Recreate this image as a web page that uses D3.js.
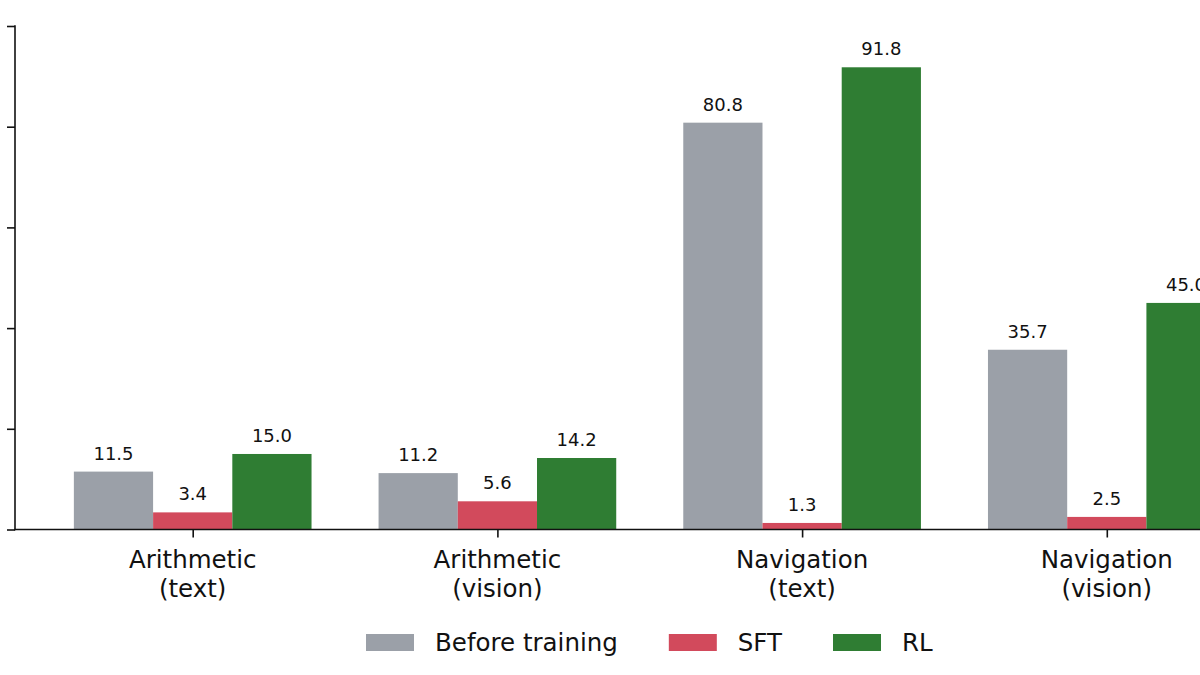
<!DOCTYPE html>
<html>
<head>
<meta charset="utf-8">
<script src="https://cdn.jsdelivr.net/npm/d3@7"></script>
<style>
  html, body { margin: 0; padding: 0; background: #fff; }
  svg { display: block; font-family: "DejaVu Sans", sans-serif; }
</style>
</head>
<body>
<svg width="1200" height="675"></svg>
<script>
// data
var categories = [['Arithmetic', '(text)'], ['Arithmetic', '(vision)'], ['Navigation', '(text)'], ['Navigation', '(vision)']];
var seriesNames = ['Before training', 'SFT', 'RL'];
var seriesColors = ['#9ba0a8', '#d24a5c', '#2f7d33'];
var beforeTraining = [11.5, 11.2, 80.8, 35.7];
var sft = [3.4, 5.6, 1.3, 2.5];
var rl = [15.0, 14.2, 91.8, 45.0];
var yTicks = [0, 20, 40, 60, 80, 100];

var series = [beforeTraining, sft, rl];
var barWidth = 0.26;

var svg = d3.select('svg');

// scales (category index -> px, value -> px)
var x = d3.scaleLinear().domain([0, 3]).range([192.7, 1106.8]);
var y = d3.scaleLinear().domain([0, 100]).range([529.5, 26]);
var pxPerUnit = x(1) - x(0);

// bars
series.forEach(function(vals, s) {
  var off = (s - 1) * barWidth;
  var g = svg.append('g');
  g.selectAll('rect')
    .data(vals)
    .enter()
    .append('rect')
    .attr('x', (d, i) => x(i + off - barWidth / 2))
    .attr('y', d => y(d))
    .attr('width', barWidth * pxPerUnit)
    .attr('height', d => y(0) - y(d))
    .attr('fill', seriesColors[s]);

  // value labels
  g.selectAll('text')
    .data(vals)
    .enter()
    .append('text')
    .attr('x', (d, i) => x(i + off))
    .attr('y', d => y(d) - 12)
    .attr('text-anchor', 'middle')
    .attr('font-size', 18)
    .attr('fill', '#111')
    .text(d => d.toFixed(1));
});

// y axis
var yAxis = svg.append('g')
  .attr('transform', 'translate(15,0)')
  .call(d3.axisLeft(y).tickValues(yTicks).tickSize(8).tickFormat(''));
yAxis.select('.domain').remove();
yAxis.selectAll('line').attr('stroke', '#111').attr('stroke-width', 1.6);
svg.append('line')
  .attr('x1', 15).attr('x2', 15)
  .attr('y1', y(100) - 0.8).attr('y2', y(0) + 0.8)
  .attr('stroke', '#111').attr('stroke-width', 1.6);

// x axis
var xAxis = svg.append('g')
  .attr('transform', 'translate(0,' + y(0) + ')')
  .call(d3.axisBottom(x).tickValues(d3.range(categories.length)).tickSize(8).tickFormat(''));
xAxis.select('.domain').remove();
xAxis.selectAll('line').attr('stroke', '#111').attr('stroke-width', 1.6);
svg.append('line')
  .attr('x1', 14.2).attr('x2', 1200)
  .attr('y1', y(0)).attr('y2', y(0))
  .attr('stroke', '#111').attr('stroke-width', 1.6);

// category labels (two lines)
var catLabels = svg.append('g').selectAll('text')
  .data(categories)
  .enter()
  .append('text')
  .attr('text-anchor', 'middle')
  .attr('font-size', 24.5)
  .attr('fill', '#111');
catLabels.append('tspan')
  .attr('x', (d, i) => x(i))
  .attr('y', 568)
  .text(d => d[0]);
catLabels.append('tspan')
  .attr('x', (d, i) => x(i))
  .attr('y', 597)
  .text(d => d[1]);

// legend
var legend = svg.append('g');
var lx = 366;
seriesNames.forEach(function(name, s) {
  legend.append('rect')
    .attr('x', lx).attr('y', 634)
    .attr('width', 48).attr('height', 17)
    .attr('fill', seriesColors[s]);
  var t = legend.append('text')
    .attr('x', lx + 48 + 21)
    .attr('y', 651)
    .attr('font-size', 24.5)
    .attr('fill', '#111')
    .text(name);
  lx = lx + 48 + 21 + t.node().getComputedTextLength() + 51;
});
</script>
</body>
</html>
